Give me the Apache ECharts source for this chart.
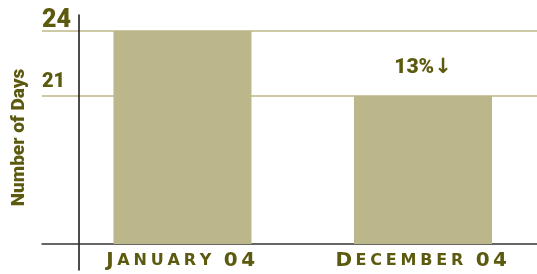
<!DOCTYPE html>
<html>
<head>
<meta charset="utf-8">
<script src="https://cdn.jsdelivr.net/npm/echarts@6/dist/echarts.min.js"></script>
<style>
  html, body { margin: 0; padding: 0; background: #fff; }
  #chart { width: 537px; height: 274px; }
</style>
</head>
<body>
<div id="chart"></div>
<script>
// data
var categories = ['January 04', 'December 04'];
var days = [24, 21];
var notes = ['', '13%\u2193'];
var yTicks = [21, 24];

var olive = '#5c5a0e';
var sans = 'Roboto';

// small caps: capitals and digits large, the rest small, one token per letter
function smallCaps(name) {
    var out = '';
    for (var i = 0; i < name.length; i++) {
        var ch = name[i];
        var st = /[A-Z0-9]/.test(ch) ? 'c' : 's';
        if (ch === ' ') st = 'w';
        out += '{' + st + '|' + ch.toUpperCase() + '}';
    }
    return out;
}

var chart = echarts.init(document.getElementById('chart'));

chart.setOption({
    animation: false,
    grid: [
        { left: 42, right: 0, top: 31, bottom: 30, outerBoundsMode: 'none' },
        { left: 79, width: 10, top: 15, bottom: 4, outerBoundsMode: 'none' }
    ],
    xAxis: [{
        type: 'value',
        gridIndex: 0,
        min: -0.584,
        max: 1.474,
        splitLine: { show: false },
        axisTick: { show: false },
        axisLine: { show: true, lineStyle: { color: '#333', width: 1.5 } },
        axisLabel: {
            customValues: [0, 1],
            margin: 7,
            formatter: function (v) { return smallCaps(categories[Math.round(v)]); },
            rich: {
                c: { fontFamily: 'DejaVu Sans', fontWeight: 'bold', fontSize: 20, color: olive, padding: [0, 3.5, 0, 0] },
                s: { fontFamily: 'DejaVu Sans', fontWeight: 'bold', fontSize: 16, color: olive, padding: [0, 3.8, 0, 0] },
                w: { fontFamily: 'DejaVu Sans', fontWeight: 'bold', fontSize: 16, color: olive, padding: [0, 3, 0, 0] }
            }
        }
    }, {
        type: 'value',
        gridIndex: 1,
        show: false
    }],
    yAxis: [{
        type: 'value',
        gridIndex: 0,
        min: 14.17,
        max: 24,
        name: 'Number of Days',
        nameLocation: 'middle',
        nameGap: 13,
        nameTextStyle: { fontFamily: sans, fontWeight: 900, fontSize: 19, color: olive },
        axisLine: { show: false },
        axisTick: { show: false, customValues: yTicks },
        splitLine: { show: true, lineStyle: { color: '#cdc9a5', width: 2 } },
        axisLabel: {
            customValues: yTicks,
            align: 'left',
            verticalAlign: 'bottom',
            margin: 0,
            formatter: function (v) { return v === 24 ? '{b|' + v + '}' : '{m|' + v + '}'; },
            rich: {
                b: { fontFamily: sans, fontWeight: 900, fontSize: 25, color: olive, padding: [0, 0, -2, 0] },
                m: { fontFamily: sans, fontWeight: 900, fontSize: 20, color: olive, padding: [0, 0, 4, 0] }
            }
        }
    }, {
        type: 'value',
        gridIndex: 1,
        axisLine: { show: true, lineStyle: { color: '#111', width: 1.5 } },
        axisTick: { show: false },
        axisLabel: { show: false },
        splitLine: { show: false }
    }],
    series: [{
        type: 'bar',
        xAxisIndex: 0,
        yAxisIndex: 0,
        barWidth: 138,
        data: days.map(function (v, i) { return [i, v]; }),
        itemStyle: { color: '#bbb78a' },
        label: {
            show: true,
            position: 'top',
            distance: 18,
            formatter: function (p) { return notes[p.dataIndex]; },
            fontFamily: sans + ', DejaVu Sans',
            fontWeight: 900,
            fontSize: 21,
            color: olive
        }
    }]
});
</script>
</body>
</html>
